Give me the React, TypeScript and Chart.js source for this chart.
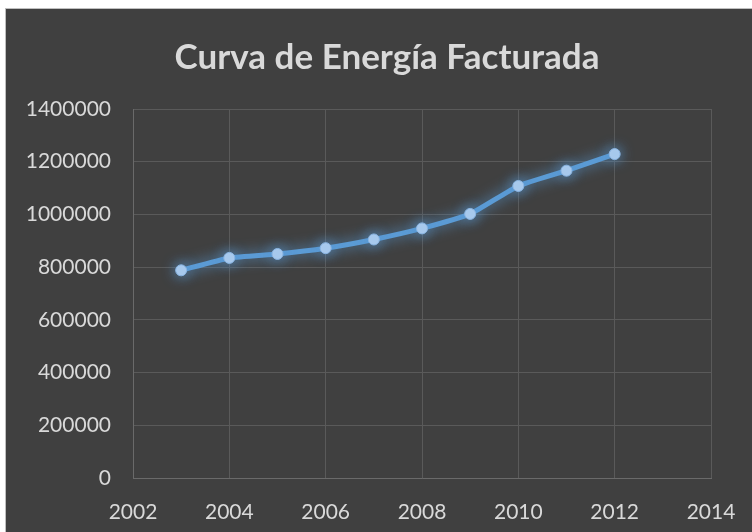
import React, { useEffect, useRef } from "react";
import { Chart, registerables } from "chart.js";

Chart.register(...registerables);

const years = [2003, 2004, 2005, 2006, 2007, 2008, 2009, 2010, 2011, 2012];
const energia = [788000, 835000, 850000, 872000, 905000, 947000, 1002000, 1108000, 1166000, 1229000];
const titleText = "Curva de Energía Facturada";

const glowPlugin = {
  id: "glow",
  beforeDatasetsDraw(chart: any) {
    const ctx = chart.ctx;
    ctx.save();
    ctx.shadowColor = "rgba(91,155,213,0.95)";
    ctx.shadowBlur = 14;
  },
  afterDatasetsDraw(chart: any) {
    chart.ctx.restore();
  },
};

export default function App() {
  const ref = useRef<HTMLCanvasElement | null>(null);
  useEffect(() => {
    if (!ref.current) return;
    const font = "Lato, 'Open Sans', sans-serif";
    const chart = new Chart(ref.current, {
      type: "line",
      data: {
        datasets: [
          {
            label: "Energía",
            data: years.map((y, i) => ({ x: y, y: energia[i] })),
            borderColor: "#5b9bd5",
            borderWidth: 5,
            pointRadius: 5.5,
            pointBackgroundColor: "#adcdef",
            pointBorderColor: "#8ab5e3",
            pointBorderWidth: 1,
            tension: 0.15,
          },
        ],
      },
      options: {
        responsive: false,
        animation: false,
        layout: { padding: { left: 16, right: 0, top: 0, bottom: 0 } },
        plugins: {
          legend: { display: false },
          tooltip: { enabled: false },
          title: {
            display: true,
            text: titleText,
            color: "#d9d9d9",
            font: { family: font, size: 35, weight: "bold", lineHeight: 1.2 },
            padding: { top: 28, bottom: 30 },
          },
        },
        scales: {
          x: {
            type: "linear",
            min: 2002,
            max: 2014,
            ticks: {
              stepSize: 2,
              color: "#d9d9d9",
              font: { family: font, size: 21 },
              padding: 22,
              callback: (v: any) => String(v),
            },
            grid: { color: "#5a5a5a", lineWidth: 1, drawTicks: false },
            border: { color: "#6a6a6a", width: 1 },
            afterFit: (s: any) => {
              s.height = 54;
              s.paddingLeft = 0;
              s.paddingRight = 41;
            },
          },
          y: {
            min: 0,
            max: 1400000,
            ticks: {
              stepSize: 200000,
              color: "#d9d9d9",
              font: { family: font, size: 21 },
              padding: 22,
              callback: (v: any) => String(v),
            },
            grid: { color: "#5a5a5a", lineWidth: 1, drawTicks: false },
            border: { color: "#6a6a6a", width: 1 },
            afterFit: (s: any) => {
              s.width = 111;
            },
          },
        },
      },
      plugins: [glowPlugin],
    });
    return () => chart.destroy();
  }, []);
  return (
    <div
      style={{
        position: "absolute",
        left: 5,
        top: 8,
        width: 747,
        height: 524,
        background: "#404040",
        borderLeft: "1px solid #bfbfbf",
        borderTop: "1px solid #bfbfbf",
        boxSizing: "border-box",
        overflow: "hidden",
      }}
    >
      <canvas ref={ref} width={746} height={523} style={{ display: "block" }} />
    </div>
  );
}
